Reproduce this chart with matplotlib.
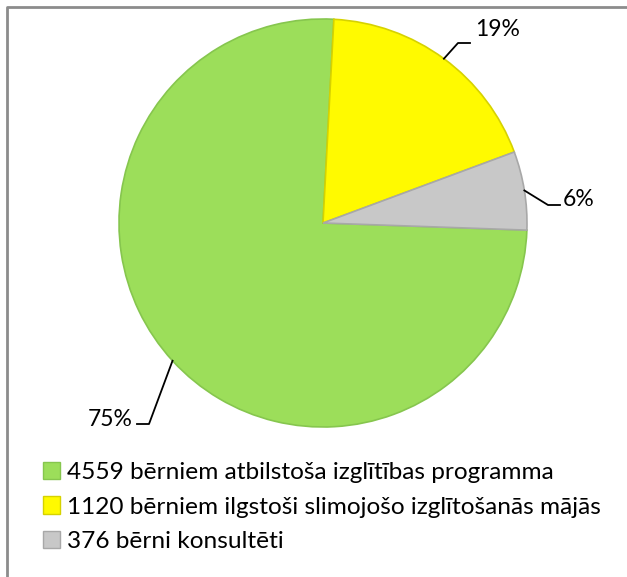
import numpy as np
import matplotlib.pyplot as plt
from matplotlib.patches import Rectangle

# data
labels = ['4559 bērniem atbilstoša izglītības programma',
          '1120 bērniem ilgstoši slimojošo izglītošanās mājās',
          '376 bērni konsultēti']
values = [4559, 1120, 376]
colors = ['#9CDE5A', '#FFFA00', '#C8C8C8']
edge_colors = ['#86C64E', '#D6D200', '#A8A8A8']
pct_labels = ['75%', '19%', '6%']

W, H = 627, 577
plt.rcParams['font.family'] = ['Lato', 'DejaVu Sans']

fig = plt.figure(figsize=(W / 100, H / 100), dpi=100)
ax = fig.add_axes([0, 0, 1, 1])

# frame (only the top and left edges show in the picture)
ax.plot([7, 7, W], [0, H - 7, H - 7], color='#8C8C8C', lw=2, solid_capstyle='butt')

cx, cy, r = 323, H - 223, 204
wedges, _ = ax.pie(values, colors=colors, startangle=-2, counterclock=False,
                   center=(cx, cy), radius=r, frame=True,
                   wedgeprops=dict(linewidth=1.2))
for w, ec in zip(wedges, edge_colors):
    w.set_edgecolor(ec)
ax.set_xlim(0, W)
ax.set_ylim(0, H)
ax.set_aspect('equal')
ax.axis('off')

# percentage labels with leader lines: elbow points and text spots
elbows = [[(149, 424), (137, 424)],
          [(458, 43), (470, 43)],
          [(548, 205), (560, 205)]]
text_pos = [(110, 420), (498, 30), (579, 199)]
for w, el, tp, lab in zip(wedges, elbows, text_pos, pct_labels):
    mid = np.deg2rad((w.theta1 + w.theta2) / 2)
    x0 = cx + r * np.cos(mid)
    y0 = cy + r * np.sin(mid)
    xs = [x0] + [p[0] for p in el]
    ys = [y0] + [H - p[1] for p in el]
    ax.plot(xs, ys, color='black', lw=1.3)
    ax.text(tp[0], H - tp[1], lab, ha='center', va='center', fontsize=16.5)

handles = [Rectangle((0, 0), 1, 1, facecolor=c, edgecolor=e, lw=1)
           for c, e in zip(colors, edge_colors)]
leg = ax.legend(handles, labels, loc='center left',
                bbox_to_anchor=(43, H - 507), bbox_transform=ax.transData,
                frameon=False, fontsize=17.6, handlelength=0.7, handleheight=0.7,
                handletextpad=0.3, labelspacing=0.53, borderpad=0, borderaxespad=0)

fig.savefig('out.png', dpi=100)
